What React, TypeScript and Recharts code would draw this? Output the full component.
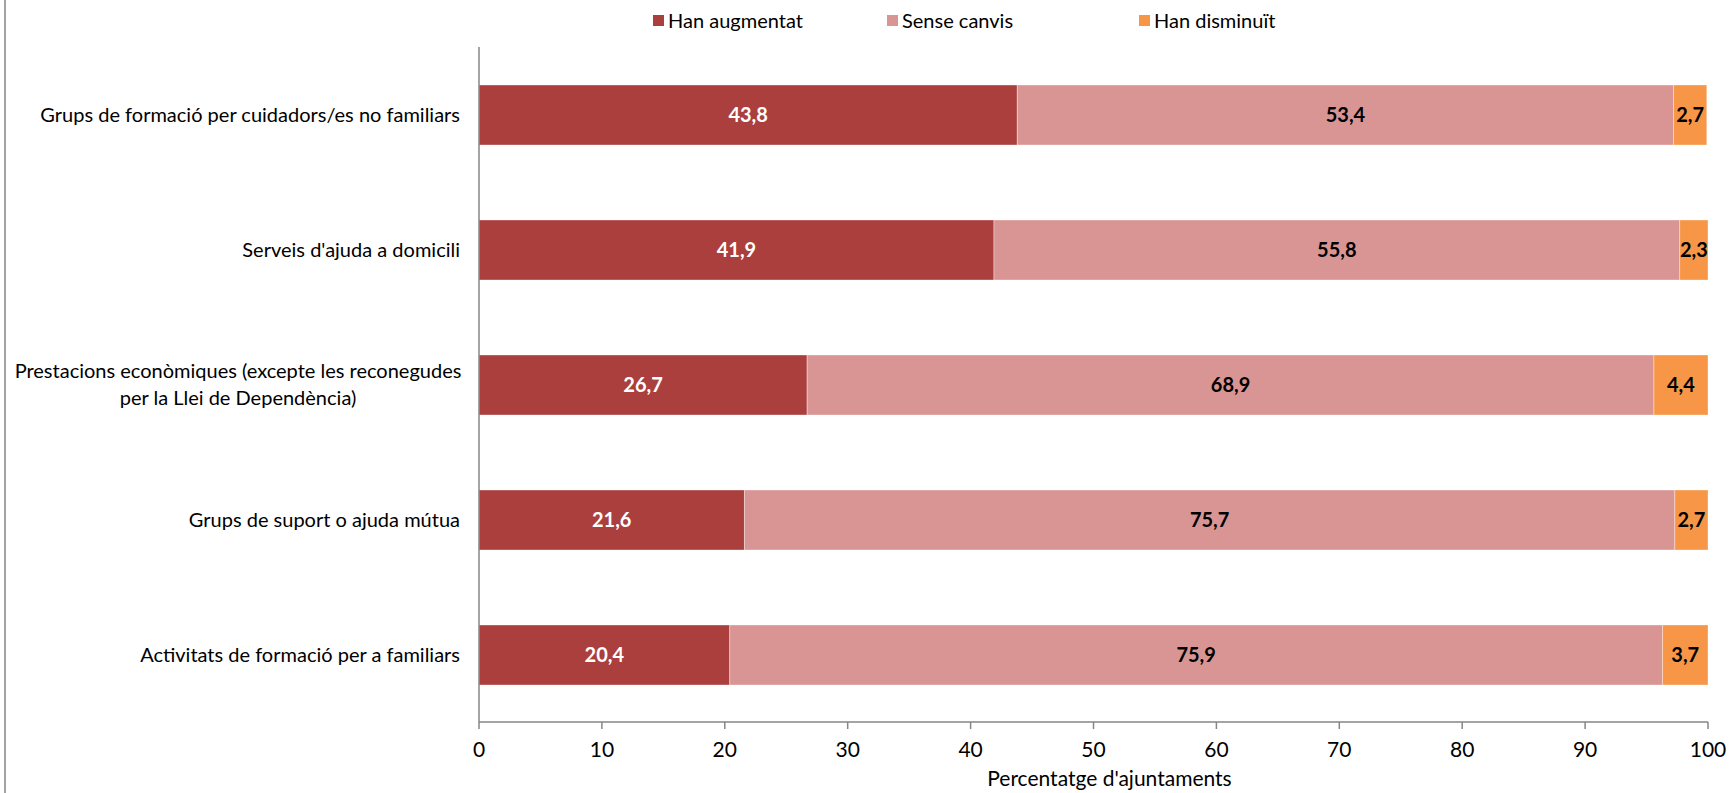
import React from "react";
import { BarChart, Bar, XAxis, YAxis, LabelList, Label } from "recharts";

const categories = [
  "Grups de formació per cuidadors/es no familiars",
  "Serveis d'ajuda a domicili",
  "Prestacions econòmiques (excepte les reconegudes\nper la Llei de Dependència)",
  "Grups de suport o ajuda mútua",
  "Activitats de formació per a familiars",
];
const hanAugmentat = [43.8, 41.9, 26.7, 21.6, 20.4];
const senseCanvis = [53.4, 55.8, 68.9, 75.7, 75.9];
const hanDisminuit = [2.7, 2.3, 4.4, 2.7, 3.7];
const xTicks = [0, 10, 20, 30, 40, 50, 60, 70, 80, 90, 100];
const axisTitle = "Percentatge d'ajuntaments";

const series = [
  { key: "aug", name: "Han augmentat", color: "#AA3F3E", labelColor: "#FFFFFF" },
  { key: "sense", name: "Sense canvis", color: "#D99594", labelColor: "#000000" },
  { key: "dism", name: "Han disminuït", color: "#F79646", labelColor: "#000000" },
];

const data = categories.map((c, i) => ({
  categoria: c,
  aug: hanAugmentat[i],
  sense: senseCanvis[i],
  dism: hanDisminuit[i],
}));

const FONT = "Lato, 'Open Sans', sans-serif";
const W = 1729;
const H = 793;
const legendX = [653, 887, 1139];

const fmt = (v: any) => (typeof v === "number" ? v.toFixed(1).replace(".", ",") : v);

const CategoryTick = (props: any) => {
  const { x, y, payload } = props;
  const lines = String(payload.value).split("\n");
  const lh = 27;
  if (lines.length === 1) {
    return (
      <text x={x - 11} y={y} dy="0.35em" textAnchor="end" fontSize={20} fontFamily={FONT} fill="#000">
        {lines[0]}
      </text>
    );
  }
  const cx = x - 11 - 222;
  const startY = y - ((lines.length - 1) * lh) / 2;
  return (
    <text textAnchor="middle" fontSize={20} fontFamily={FONT} fill="#000">
      {lines.map((l, i) => (
        <tspan key={i} x={cx} y={startY + i * lh} dy="0.35em">
          {l}
        </tspan>
      ))}
    </text>
  );
};

export default function App() {
  return (
    <div style={{ position: "absolute", left: 0, top: 0, width: W, height: H, background: "#fff" }}>
      <div style={{ position: "absolute", left: 4, top: 0, width: 2, height: H, background: "#a3a3a3" }} />
      {series.map((s, i) => (
        <div
          key={s.key}
          style={{
            position: "absolute",
            left: legendX[i],
            top: 8,
            height: 24,
            display: "flex",
            alignItems: "center",
            fontFamily: FONT,
            fontSize: 20,
            color: "#000",
            whiteSpace: "nowrap",
          }}
        >
          <span style={{ display: "inline-block", width: 11, height: 11, background: s.color, marginRight: 4 }} />
          <span>{s.name}</span>
        </div>
      ))}
      <BarChart
        width={W}
        height={H}
        data={data}
        layout="vertical"
        barSize={60}
        margin={{ top: 47, right: 21, bottom: 0, left: 0 }}
        style={{ position: "absolute", left: 0, top: 0 }}
      >
        <XAxis
          type="number"
          domain={[0, 100]}
          ticks={xTicks}
          interval={0}
          height={71}
          tickSize={7}
          tickMargin={13}
          axisLine={{ stroke: "#868686", strokeWidth: 1.5 }}
          tickLine={{ stroke: "#868686", strokeWidth: 1.5 }}
          tick={{ fontSize: 21, fontFamily: FONT, fill: "#000" }}
        >
          <Label
            content={(p: any) => {
              const vb = p.viewBox || {};
              return (
                <text
                  x={vb.x + vb.width / 2 + 16}
                  y={786}
                  textAnchor="middle"
                  fontSize={21}
                  fontFamily={FONT}
                  fill="#000"
                >
                  {axisTitle}
                </text>
              );
            }}
          />
        </XAxis>
        <YAxis
          type="category"
          dataKey="categoria"
          width={479}
          tickLine={false}
          interval={0}
          axisLine={{ stroke: "#868686", strokeWidth: 1.5 }}
          tick={<CategoryTick />}
        />
        {series.map((s) => (
          <Bar
            key={s.key}
            dataKey={s.key}
            name={s.name}
            stackId="a"
            fill={s.color}
            stroke="rgba(255,255,255,0.35)"
            strokeWidth={1}
            isAnimationActive={false}
          >
            <LabelList
              dataKey={s.key}
              position="center"
              formatter={fmt}
              fill={s.labelColor}
              fontSize={20}
              fontWeight="bold"
              fontFamily={FONT}
            />
          </Bar>
        ))}
      </BarChart>
    </div>
  );
}
